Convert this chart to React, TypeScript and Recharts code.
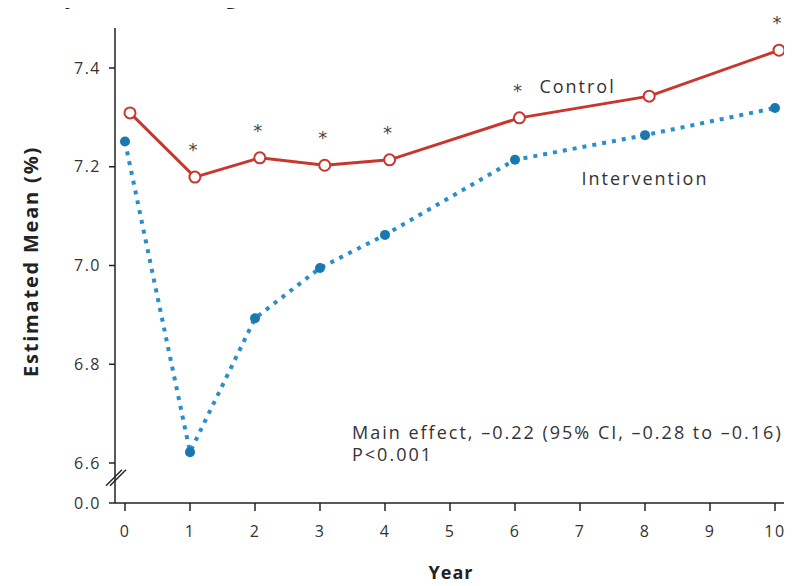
import React from 'react';
import { LineChart, Line, XAxis, YAxis, ReferenceDot, LabelList, Label } from 'recharts';

const years = [0, 1, 2, 3, 4, 6, 8, 10];
const controlValues = [7.309, 7.179, 7.218, 7.203, 7.214, 7.299, 7.343, 7.436];
const interventionValues = [7.251, 6.622, 6.893, 6.995, 7.062, 7.214, 7.264, 7.319];
const significantYears = [1, 2, 3, 4, 6, 10];
const xTicks = [0, 1, 2, 3, 4, 5, 6, 7, 8, 9, 10];
const yTicks = [6.6, 6.8, 7.0, 7.2, 7.4];
const yBreakValue = 6.519; // position where the broken axis shows "0.0"
const yTopValue = 7.481;
const yBreakMark = 6.57;
const controlLabel = 'Control';
const interventionLabel = 'Intervention';
const controlLabelYear = 6;
const interventionLabelYear = 8;
const annotationLines = ['Main effect, \u20130.22 (95% CI, \u20130.28 to \u20130.16)', 'P<0.001'];
const yTitle = 'Estimated Mean (%)';
const xTitle = 'Year';
const chartTitle = 'Glycated Hemoglobin';

const data = years.map((year, i) => ({
  year,
  control: controlValues[i],
  intervention: interventionValues[i],
}));

const RED = '#c8372d';
const BLUE = '#2a8fc9';
const BLUE_DOT = '#1a78b0';
const FONT = '"Open Sans", "DejaVu Sans", sans-serif';
const TEXT = '#333';

const StarLabel = (props: any) => {
  const { x, y, value } = props;
  if (!significantYears.includes(value)) return null;
  return (
    <g>
      <text x={x - 2} y={y - 21} textAnchor="middle" fontSize={18} fill="#444" fontFamily='"DejaVu Sans", sans-serif'>*</text>
      {value === controlLabelYear && (
        <text x={x + 20} y={y - 32} dominantBaseline="central" fontSize={18} fill={TEXT} fontFamily={FONT}
          style={{ letterSpacing: 2 }}>
          {controlLabel}
        </text>
      )}
    </g>
  );
};

const InterventionLabel = (props: any) => {
  const { x, y, value } = props;
  if (value !== interventionLabelYear) return null;
  return (
    <text x={x} y={y + 43} textAnchor="middle" dominantBaseline="central" fontSize={18} fill={TEXT} fontFamily={FONT}
      style={{ letterSpacing: 2 }}>
      {interventionLabel}
    </text>
  );
};

const BreakMark = (props: any) => {
  const { cx, cy } = props;
  const ax = cx - 10;
  return (
    <g stroke="#222" strokeWidth={1.4}>
      <line x1={ax - 9} y1={cy + 8} x2={ax + 7} y2={cy - 8} />
      <line x1={ax - 5} y1={cy + 8} x2={ax + 11} y2={cy - 8} />
    </g>
  );
};

const YTitle = (props: any) => {
  const vb = props.viewBox || { x: 0, y: 20, width: 107, height: 475 };
  const x = vb.x + 22;
  const y = vb.y + vb.height / 2 - 4;
  return (
    <text x={x} y={y} transform={`rotate(-90, ${x}, ${y})`} textAnchor="middle" dominantBaseline="central"
      fontSize={20} fontWeight="bold" fill="#222" fontFamily={FONT} style={{ letterSpacing: 1.8 }}>
      {yTitle}
    </text>
  );
};

const XTitle = (props: any) => {
  const vb = props.viewBox || { x: 107, y: 495, width: 672, height: 80 };
  return (
    <text x={vb.x + vb.width / 2} y={vb.y + 69} textAnchor="middle" dominantBaseline="central"
      fontSize={18} fontWeight="bold" fill="#222" fontFamily={FONT} style={{ letterSpacing: 1 }}>
      {xTitle}
    </text>
  );
};

const tickStyle = { fontSize: 16, fill: TEXT, fontFamily: FONT, letterSpacing: 1.5 };

export default function App() {
  return (
    <div style={{ position: 'relative', width: 784, height: 578 }}>
      <div style={{ position: 'absolute', left: 31, top: -24, fontFamily: FONT, fontWeight: 'bold', fontSize: 22, lineHeight: '22px', color: '#222', whiteSpace: 'nowrap', letterSpacing: 1.5 }}>
        {chartTitle}
      </div>
      <LineChart width={784} height={578} data={data} margin={{ top: 20, right: 5, bottom: 3, left: 0 }}>
        <XAxis xAxisId="ctrl" type="number" dataKey="year" domain={[0, 10]} hide orientation="top" height={0}
          padding={{ left: 15, right: 8 }} />
        <XAxis xAxisId="main" type="number" dataKey="year" domain={[0, 10]} ticks={xTicks}
          padding={{ left: 10, right: 12 }} height={80} tickSize={8} tickMargin={15}
          axisLine={{ stroke: '#222', strokeWidth: 1.5 }} tickLine={{ stroke: '#222', strokeWidth: 1.5 }}
          tick={tickStyle} interval={0} allowDecimals={false}>
          <Label content={<XTitle />} />
        </XAxis>
        <YAxis type="number" domain={[yBreakValue, yTopValue]} ticks={[yBreakValue, ...yTicks]} allowDataOverflow
          width={107} tickSize={6} tickMargin={8} interval={0}
          tickFormatter={(v: number) => (v < 6.55 ? '0.0' : v.toFixed(1))}
          axisLine={{ stroke: '#222', strokeWidth: 1.5 }} tickLine={{ stroke: '#222', strokeWidth: 1.5 }}
          tick={tickStyle}>
          <Label content={<YTitle />} />
        </YAxis>
        <ReferenceDot xAxisId="main" x={0} y={yBreakMark} r={0} ifOverflow="visible" shape={<BreakMark />} />
        <Line xAxisId="main" type="linear" dataKey="intervention" stroke={BLUE} strokeWidth={4}
          strokeDasharray="4 6" isAnimationActive={false}
          dot={{ r: 5, fill: BLUE_DOT, stroke: 'none' }} activeDot={false}>
          <LabelList dataKey="year" content={<InterventionLabel />} />
        </Line>
        <Line xAxisId="ctrl" type="linear" dataKey="control" stroke={RED} strokeWidth={3}
          isAnimationActive={false}
          dot={{ r: 5.5, fill: '#fff', stroke: RED, strokeWidth: 2 }} activeDot={false}>
          <LabelList dataKey="year" content={<StarLabel />} />
        </Line>
      </LineChart>
      <div style={{ position: 'absolute', left: 344, top: 413, fontFamily: FONT, fontSize: 18, lineHeight: '22px', color: TEXT, whiteSpace: 'nowrap', letterSpacing: 2 }}>
        {annotationLines.map((l, i) => <div key={i}>{l}</div>)}
      </div>
    </div>
  );
}
